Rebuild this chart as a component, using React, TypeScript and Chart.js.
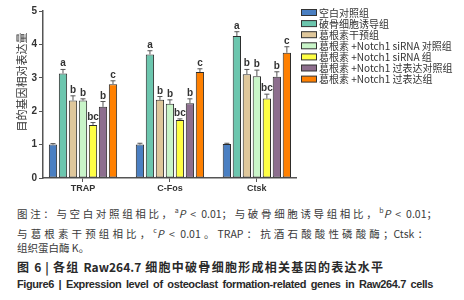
import React, { useEffect, useRef } from "react";
import { Chart, registerables } from "chart.js";

Chart.register(...registerables);

const categories = ["TRAP", "C-Fos", "Ctsk"];
const seriesLabels = [
  "空白对照组",
  "破骨细胞诱导组",
  "葛根素干预组",
  "葛根素 +Notch1 siRNA 对照组",
  "葛根素 +Notch1 siRNA 组",
  "葛根素 +Notch1 过表达对照组",
  "葛根素 +Notch1 过表达组",
];
const seriesColors = ["#4a7fc2", "#6cc6ae", "#dfc79b", "#c9f5c9", "#ffff44", "#8d6e8e", "#ff8000"];
const blankValues = [1.0, 1.0, 1.02];
const inductionValues = [3.13, 3.7, 4.25];
const puerarinValues = [2.32, 2.34, 3.11];
const siCtrlValues = [2.32, 2.22, 3.05];
const siRNAValues = [1.59, 1.74, 2.38];
const oeCtrlValues = [2.13, 2.24, 3.03];
const oeValues = [2.81, 3.17, 3.75];
const blankErr = [0.03, 0.04, 0.02];
const inductionErr = [0.12, 0.11, 0.13];
const puerarinErr = [0.14, 0.1, 0.14];
const siCtrlErr = [0.05, 0.12, 0.18];
const siRNAErr = [0.07, 0.03, 0.13];
const oeCtrlErr = [0.16, 0.13, 0.15];
const oeErr = [0.1, 0.1, 0.18];
const sigLetters = ["", "a", "b", "b", "bc", "b", "c"];
const yTicks = [0, 1, 2, 3, 4, 5];
const yTitle = "目的基因相对表达量";

const allValues = [blankValues, inductionValues, puerarinValues, siCtrlValues, siRNAValues, oeCtrlValues, oeValues];
const allErrors = [blankErr, inductionErr, puerarinErr, siCtrlErr, siRNAErr, oeCtrlErr, oeErr];

const CJK = '"Noto Sans CJK SC", "Noto Sans", sans-serif';

const overlayPlugin = {
  id: "overlay",
  afterDatasetsDraw(chart: any) {
    const ctx = chart.ctx;
    const yScale = chart.scales.y;
    ctx.save();
    chart.data.datasets.forEach((ds: any, di: number) => {
      const meta = chart.getDatasetMeta(di);
      meta.data.forEach((bar: any, i: number) => {
        const v = allValues[di][i];
        const e = allErrors[di][i];
        const yTop = yScale.getPixelForValue(v);
        const yErr = yScale.getPixelForValue(v + e);
        ctx.strokeStyle = "#555";
        ctx.lineWidth = 1;
        ctx.beginPath();
        ctx.moveTo(bar.x, yTop);
        ctx.lineTo(bar.x, yErr);
        ctx.moveTo(bar.x - 2.5, yErr);
        ctx.lineTo(bar.x + 2.5, yErr);
        ctx.stroke();
        const letter = sigLetters[di];
        if (letter) {
          ctx.fillStyle = "#333";
          ctx.font = 'bold 10px "Liberation Sans", sans-serif';
          ctx.textAlign = "center";
          ctx.textBaseline = "alphabetic";
          ctx.fillText(letter, bar.x, yErr - 3);
        }
      });
    });
    ctx.restore();
  },
  afterDraw(chart: any) {
    const ctx = chart.ctx;
    ctx.save();
    seriesLabels.forEach((label, i) => {
      const cy = 12.5 + i * 11.1;
      ctx.fillStyle = seriesColors[i];
      ctx.fillRect(301.5, cy - 3, 15, 6);
      ctx.strokeStyle = "#333";
      ctx.lineWidth = 1;
      ctx.strokeRect(301.5, cy - 3, 15, 6);
      ctx.fillStyle = "#333";
      ctx.font = `10px ${CJK}`;
      ctx.textAlign = "left";
      ctx.textBaseline = "middle";
      ctx.fillText(label, 319, cy + 0.5);
    });
    ctx.translate(22, 82);
    ctx.rotate(-Math.PI / 2);
    ctx.fillStyle = "#333";
    ctx.font = `11px ${CJK}`;
    ctx.textAlign = "center";
    ctx.textBaseline = "middle";
    ctx.fillText(yTitle, 0, 0);
    ctx.restore();
  },
};

function ChartView() {
  const ref = useRef<HTMLCanvasElement | null>(null);
  useEffect(() => {
    if (!ref.current) return;
    const chart = new Chart(ref.current, {
      type: "bar",
      data: {
        datasets: seriesLabels.map((label, di) => ({
          label,
          data: allValues[di].map((v, i) => ({ x: i, y: v })),
          backgroundColor: seriesColors[di],
          borderColor: "#2b2b2b",
          borderWidth: 1,
          borderSkipped: false,
          categoryPercentage: 0.805,
          barPercentage: 0.83,
        })),
      },
      options: {
        responsive: false,
        animation: false,
        layout: { padding: { left: 0, right: 168, top: 11, bottom: 0 } },
        plugins: { legend: { display: false }, tooltip: { enabled: false } },
        scales: {
          x: {
            type: "linear",
            offset: false,
            min: -0.46,
            max: 2.45,
            afterBuildTicks: (axis: any) => {
              axis.ticks = categories.map((_, i) => ({ value: i }));
            },
            afterFit: (scale: any) => {
              scale.height = 22;
            },
            ticks: {
              autoSkip: false,
              maxRotation: 0,
              callback: (v: any) => categories[v] ?? "",
              color: "#333",
              font: { size: 9, weight: "bold", family: '"Liberation Sans Narrow", "Liberation Sans", sans-serif' },
              padding: 1,
            },
            grid: { display: true, offset: false, drawOnChartArea: false, drawTicks: true, tickLength: 4, color: "#555" },
            border: { color: "#555", width: 1.5 },
          },
          y: {
            min: 0,
            max: 5,
            afterBuildTicks: (axis: any) => {
              axis.ticks = yTicks.map((v) => ({ value: v }));
            },
            afterFit: (scale: any) => {
              scale.width = 43;
            },
            ticks: {
              color: "#333",
              font: { size: 10, weight: "bold", family: '"Liberation Sans", sans-serif' },
              padding: 2,
            },
            grid: { display: true, drawOnChartArea: false, drawTicks: true, tickLength: 4, color: "#555" },
            border: { color: "#555", width: 1.5 },
          },
        },
      },
      plugins: [overlayPlugin],
    } as any);
    return () => chart.destroy();
  }, []);
  return <canvas ref={ref} width={464} height={200} style={{ position: "absolute", left: 0, top: 0 }} />;
}

const lineBase: React.CSSProperties = {
  position: "absolute",
  left: 17,
  whiteSpace: "nowrap",
  color: "#3a3a3a",
  fontFamily: CJK,
};

export default function App() {
  return (
    <div style={{ position: "absolute", left: 0, top: 0, width: 464, height: 300, background: "#fff", overflow: "hidden" }}>
      <ChartView />
      <div style={{ ...lineBase, top: 202, width: 420, fontSize: 10.5, lineHeight: "16px", textAlign: "justify", textAlignLast: "justify" }}>
        图注：与空白对照组相比，<sup style={{ fontSize: 7 }}>a</sup><i>P</i> &lt; 0.01；与破骨细胞诱导组相比，<sup style={{ fontSize: 7 }}>b</sup><i>P</i> &lt; 0.01；
      </div>
      <div style={{ ...lineBase, top: 222, width: 411, fontSize: 10.5, lineHeight: "16px", textAlign: "justify", textAlignLast: "justify" }}>
        与葛根素干预组相比，<sup style={{ fontSize: 7 }}>c</sup><i>P</i> &lt; 0.01。TRAP：抗酒石酸酸性磷酸酶；Ctsk：
      </div>
      <div style={{ ...lineBase, top: 240, fontSize: 10.5, lineHeight: "16px" }}>组织蛋白酶 K。</div>
      <div style={{ ...lineBase, top: 258, width: 366, fontSize: 12, lineHeight: "18px", fontWeight: "bold", color: "#2a2a2a", textAlign: "justify", textAlignLast: "justify" }}>
        图 6 | 各组 Raw264.7 细胞中破骨细胞形成相关基因的表达水平
      </div>
      <div style={{ ...lineBase, top: 276, width: 416, fontSize: 11, lineHeight: "16px", fontWeight: "bold", color: "#2a2a2a", letterSpacing: -0.4, fontFamily: '"Liberation Sans Narrow", "Liberation Sans", sans-serif', textAlign: "justify", textAlignLast: "justify" }}>
        Figure6 | Expression level of osteoclast formation-related genes in Raw264.7 cells
      </div>
    </div>
  );
}
